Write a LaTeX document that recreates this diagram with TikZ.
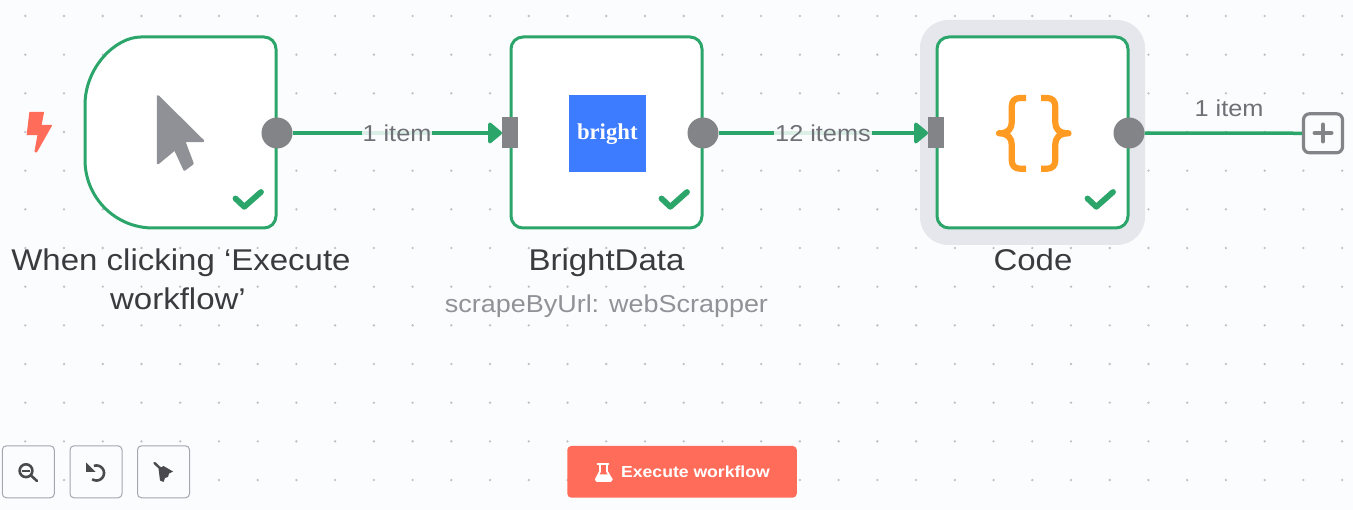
\documentclass[tikz,border=0pt]{standalone}
\usepackage{fontspec}
\setmainfont[FakeStretch=1.1]{Liberation Sans}
\newfontfamily\logofont{Liberation Serif}
\usetikzlibrary{arrows.meta}
\definecolor{bgc}{HTML}{FBFCFE}
\definecolor{greenc}{HTML}{2BA56A}
\definecolor{grayc}{HTML}{828488}
\definecolor{cursorc}{HTML}{909196}
\definecolor{redc}{HTML}{FF6D5A}
\definecolor{halo}{HTML}{E5E7ED}
\definecolor{orangec}{HTML}{FF9B22}
\definecolor{logoc}{HTML}{3D7BFF}
\definecolor{textc}{HTML}{3A3B3F}
\definecolor{subc}{HTML}{909298}
\definecolor{lblc}{HTML}{6E7076}
\definecolor{btnb}{HTML}{A3A6AF}
\definecolor{iconc}{HTML}{4A4A4E}
\definecolor{dotc}{HTML}{BFC1C8}
\tikzset{
  x=1pt,y=-1pt,
  cardbox/.style={draw=greenc,line width=3pt,fill=white,rounded corners=12pt,minimum size=191pt,inner sep=0pt},
  outdot/.style={circle,fill=grayc,minimum size=31pt,inner sep=0pt},
  inport/.style={rectangle,fill=grayc,minimum width=15.5pt,minimum height=31pt,inner sep=0pt},
  edgeline/.style={draw=greenc,line width=3.5pt},
  edgetip/.style={edgeline,-{Triangle[length=15pt,width=24pt,round]}},
  tickmark/.style={draw=greenc,line width=5.8pt,line join=round,line cap=round},
  title/.style={font=\fontsize{30}{38}\selectfont,text=textc,anchor=base,inner sep=0pt},
  edgelbl/.style={font=\fontsize{23}{28}\selectfont,text=lblc,anchor=base,inner sep=1pt},
  edgelblbg/.style={edgelbl,fill=bgc,fill opacity=.85,text opacity=1},
  toolbtn/.style={draw=btnb,line width=1pt,fill=bgc,rounded corners=4pt,minimum width=52pt,minimum height=52pt,inner sep=0pt},
  braceline/.style={draw=orangec,line width=6.2pt,line join=round,line cap=butt},
  iconline/.style={draw=iconc,line width=2.6pt},
}
\begin{document}
\begin{tikzpicture}
\useasboundingbox (0,0) rectangle (1353,510);
\fill[bgc] (0,0) rectangle (1353,510);
% dot grid
\foreach \i in {0,...,34}{\foreach \j in {0,...,12}{
  \fill[dotc] ({25.3+38.73*\i},{16+38.67*\j}) circle (1.3pt);
}}
% halo
\fill[halo,rounded corners=28pt] (920,20) rectangle (1145,245);
% cards
\draw[cardbox] (276,133) -- (276,37) -- (153,37) [sharp corners]
   .. controls (115.4,37) and (85,67.4) .. (85,105) -- (85,160)
   .. controls (85,197.6) and (115.4,228) .. (153,228) [rounded corners=12pt] -- (276,228) -- cycle;
\node[cardbox] (card2) at (606.5,132.5) {};
\node[cardbox] (card3) at (1032.5,132.5) {};
% ports
\node[outdot] (out1) at (277,133) {};
\node[outdot] (out2) at (703,133) {};
\node[outdot] (out3) at (1129,133) {};
\node[inport] (in2) at (510,133) {};
\node[inport] (in3) at (936,133) {};
\node[draw=grayc,line width=3.2pt,fill=bgc,rounded corners=6pt,minimum size=39pt,inner sep=0pt] (plusbox) at (1323,133.3) {};
\draw[grayc,line width=4pt,line cap=round] (1314.5,133) -- (1331.5,133) (1323,124.5) -- (1323,141.5);
% connectors
\draw[edgetip] (out1) -- (in2);
\draw[edgetip] (out2) -- (in3);
\draw[edgeline] (out3) -- (plusbox);
\node[edgelblbg] (lab1) at (397,141.6) {1 item};
\node[edgelblbg] (lab2) at (823,141.6) {12 items};
\node[edgelbl] (lab3) at (1229,116.6) {1 item};
% bolt
\fill[redc,draw=redc,line width=1pt,line join=round] (29.8,112.5) -- (43.5,112.5) -- (41,125.5) -- (51.5,125.5) -- (36.5,152) -- (35,151.5) -- (38,134.7) -- (27.2,134.7) -- cycle;
% cursor
\fill[cursorc,draw=cursorc,line width=2.5pt,line join=round] (158,96.5) -- (203,141) -- (184,141) -- (192.5,163.5) -- (184.5,169.5) -- (175,149) -- (158,163) -- cycle;
% logo
\node[fill=logoc,minimum size=77pt,inner sep=0pt] (logo) at (607.5,133.5) {};
\node[font=\logofont\bfseries\fontsize{22.7}{26}\selectfont,text=white,anchor=base,inner sep=0pt] (logot) at (607.3,139.5) {bright};
% braces
\draw[braceline] (1026,98) -- (1020,98) .. controls (1015,98) and (1011.8,101) .. (1011.8,106) -- (1011.8,122)
  .. controls (1011.8,129) and (1008,133.3) .. (999,133.3)
  .. controls (1008,133.3) and (1011.8,138) .. (1011.8,145) -- (1011.8,160.7)
  .. controls (1011.8,165.7) and (1015,168.7) .. (1020,168.7) -- (1026,168.7);
\draw[braceline] (1041,98) -- (1047,98) .. controls (1052,98) and (1055.2,101) .. (1055.2,106) -- (1055.2,122)
  .. controls (1055.2,129) and (1059,133.3) .. (1068.5,133.3)
  .. controls (1059,133.3) and (1055.2,138) .. (1055.2,145) -- (1055.2,160.7)
  .. controls (1055.2,165.7) and (1052,168.7) .. (1047,168.7) -- (1041,168.7);
% ticks
\draw[tickmark] (235.5,198.5) -- (244.3,206.8) -- (261,192);
\draw[tickmark] (661.5,198.5) -- (670.3,206.8) -- (687,192);
\draw[tickmark] (1087.5,198.5) -- (1096.3,206.8) -- (1113,192);
% titles
\node[title] (t1) at (181,271) {When clicking ‘Execute};
\node[title] (t1b) at (178,310) {workflow’};
\node[title] (t2) at (606.5,271) {BrightData};
\node[title] (t3) at (1033,271) {Code};
\node[font=\fontsize{24.5}{30}\selectfont,text=subc,anchor=base,inner sep=0pt] (t4) at (606.5,313) {scrapeByUrl: webScrapper};
% tool buttons
\node[toolbtn] (b1) at (28.3,471.8) {};
\node[toolbtn] (b2) at (96,471.8) {};
\node[toolbtn] (b3) at (163.5,471.8) {};
\draw[iconline] (26,470.7) circle (6.4pt);
\draw[iconline,line cap=round] (31,475.5) -- (37,481);
\draw[iconc,line width=2pt] (22,470.7) -- (30,470.7);
\draw[iconline] plot[domain=-110:125,samples=30] ({96.5+7.5*cos(\x)},{473+7.5*sin(\x)});
\fill[iconc] (86,462.5) -- (86,472) -- (95.5,472) -- cycle;
\draw[iconc,line width=2.4pt,line cap=round] (154.5,463) -- (162,470);
\fill[iconc] (158.5,468.5) -- (163.5,466) -- (173,471.5) -- (169,473.5) -- (168,477) -- (165,478) -- (163.5,482) -- (160,480.5) -- cycle;
% execute button
\node[fill=redc,rounded corners=4pt,minimum width=229.5pt,minimum height=51.7pt,inner sep=0pt] (exec) at (682,471.8) {};
\node[font=\bfseries\fontsize{16}{20}\selectfont,text=white,anchor=base,inner sep=0pt] (exect) at (695.5,477.7) {Execute workflow};
\draw[white,line width=1.8pt,line join=round,line cap=round] (597.5,464) -- (608.5,464) (600,464) -- (600,471.5) -- (595.8,479.5) -- (597,481) -- (610.5,481) -- (611.8,479.5) -- (607,471.5) -- (607,464);
\fill[white] (598.5,474.5) -- (608.5,474.5) -- (611.5,480) -- (596,480) -- cycle;
\end{tikzpicture}
\end{document}
